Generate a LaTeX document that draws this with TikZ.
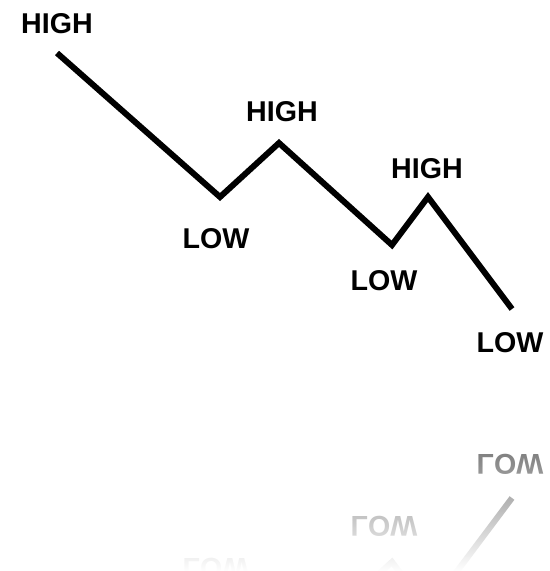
\documentclass[tikz,border=0pt]{standalone}
\usepackage{fontspec}
\setmainfont{Liberation Sans}
\usetikzlibrary{fadings}

\tikzfading[name=fadedown, top color=transparent!100, middle color=transparent!30, bottom color=transparent!0]

\tikzset{
  zigzag/.style={line width=3.4pt, line join=miter},
  lbl/.style={font=\fontsize{16.3}{19}\selectfont\bfseries, inner sep=0pt},
}

\begin{document}
\begin{tikzpicture}[x=0.02cm, y=-0.02cm]
  \useasboundingbox (0,0) rectangle (550,571);

  % turning points
  \coordinate (p0) at ( 57, 53);
  \coordinate (p1) at (220,197);
  \coordinate (p2) at (279,143);
  \coordinate (p3) at (392,245);
  \coordinate (p4) at (428,197);
  \coordinate (p5) at (512,309);

  \draw[zigzag] (p0) -- (p1) -- (p2) -- (p3) -- (p4) -- (p5);

  \node[lbl] (hi1) at ( 57, 24) {HIGH};
  \node[lbl] (hi2) at (282,112) {HIGH};
  \node[lbl] (hi3) at (427,169) {HIGH};

  \node[lbl] (lo1) at (216,239) {LOW};
  \node[lbl] (lo2) at (384,281) {LOW};
  \node[lbl] (lo3) at (510,343) {LOW};

  % mirror image below
  \begin{scope}[shift={(0,807)}, yscale=-1, black!50,
                every node/.append style={transform shape}]
    \coordinate (q2) at (279,143);
    \coordinate (q3) at (392,245);
    \coordinate (q4) at (428,197);
    \coordinate (q5) at (512,309);

    \draw[zigzag] (q2) -- (q3) -- (q4) -- (q5);

    \node[lbl] (lo1r) at (216,239) {LOW};
    \node[lbl] (lo2r) at (384,281) {LOW};
    \node[lbl] (lo3r) at (510,343) {LOW};
  \end{scope}
  \fill[white, path fading=fadedown] (0,452) rectangle (550,571);
\end{tikzpicture}
\end{document}
